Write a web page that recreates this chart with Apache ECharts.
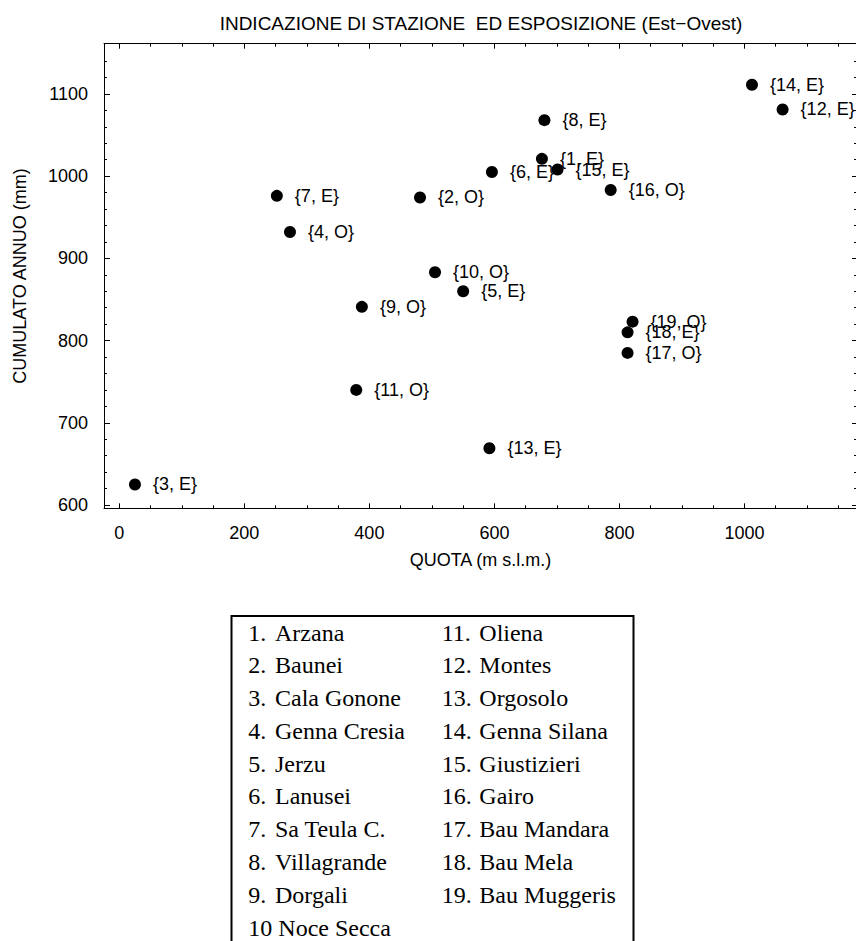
<!DOCTYPE html>
<html><head><meta charset="utf-8">
<script src="https://cdn.jsdelivr.net/npm/echarts@6/dist/echarts.min.js"></script>
<style>html,body{margin:0;padding:0;background:#fff}#c{width:856px;height:941px}</style>
</head><body><div id="c"></div>
<script>
// ---- data ----
const stationNumbers = [1,2,3,4,5,6,7,8,9,10,11,12,13,14,15,16,17,18,19];
const exposures = ['E','O','E','O','E','E','E','E','O','O','O','E','E','E','E','O','O','E','O'];
const altitudes = [676,481,25,273,550,596,252,680,388,505,379,1061,592,1012,701,786,813,813,821];
const annualTotals = [1021,974,625,932,860,1005,976,1068,841,883,740,1081,669,1111,1008,983,785,810,823];
const stationNames = ['Arzana','Baunei','Cala Gonone','Genna Cresia','Jerzu','Lanusei','Sa Teula C.','Villagrande','Dorgali','Noce Secca','Oliena','Montes','Orgosolo','Genna Silana','Giustizieri','Gairo','Bau Mandara','Bau Mela','Bau Muggeris'];
const legendNumbers = ['1.','2.','3.','4.','5.','6.','7.','8.','9.','10','11.','12.','13.','14.','15.','16.','17.','18.','19.'];
const xMajorTicks = [0,200,400,600,800,1000];
const xMinorTicks = [50,100,150,250,300,350,450,500,550,650,700,750,850,900,950,1050,1100,1150];
const yMajorTicks = [600,700,800,900,1000,1100];
const yMinorTicks = [620,640,660,680,720,740,760,780,820,840,860,880,920,940,960,980,1020,1040,1060,1080,1120,1140];
const chartTitle = 'INDICAZIONE DI STAZIONE  ED ESPOSIZIONE (Est\u2212Ovest)';
const xTitle = 'QUOTA (m s.l.m.)';
const yTitle = 'CUMULATO ANNUO (mm)';

// ---- layout ----
const X_MIN = -24.5, X_MAX = 1180, Y_MIN = 596, Y_MAX = 1161;
const SANS = '"Liberation Sans", Arial, Helvetica, sans-serif';
const SERIF = '"Liberation Serif", "Times New Roman", serif';

function mkAxis(kind, position, values, len, showLine, showLabel, extra) {
  const ax = {
    type: 'value', gridIndex: 0, position: position,
    min: kind === 'x' ? X_MIN : Y_MIN,
    max: kind === 'x' ? X_MAX : Y_MAX,
    splitLine: {show: false},
    axisLine: {show: showLine, onZero: false, lineStyle: {color: '#000', width: 1}},
    axisTick: {show: true, inside: true, length: len, customValues: values, lineStyle: {color: '#000', width: 1}},
    axisLabel: {show: showLabel, customValues: values, formatter: v => String(v),
      color: '#000', fontSize: 18, fontFamily: SANS, margin: 16}
  };
  return Object.assign(ax, extra || {});
}

const xAxes = [
  mkAxis('x', 'bottom', xMajorTicks, 5, true, true, {
    name: xTitle, nameLocation: 'middle', nameGap: 43,
    nameTextStyle: {color: '#000', fontSize: 18, fontFamily: SANS}
  }),
  mkAxis('x', 'bottom', xMinorTicks, 3, false, false),
  mkAxis('x', 'top', xMajorTicks, 5, true, false),
  mkAxis('x', 'top', xMinorTicks, 3, false, false)
];
const yAxes = [
  mkAxis('y', 'left', yMajorTicks, 6, true, true, {
    name: yTitle, nameLocation: 'middle', nameGap: 75,
    nameTextStyle: {color: '#000', fontSize: 18, fontFamily: SANS}
  }),
  mkAxis('y', 'left', yMinorTicks, 3, false, false),
  mkAxis('y', 'right', yMajorTicks, 5, true, false),
  mkAxis('y', 'right', yMinorTicks, 3, false, false)
];

const points = altitudes.map((x, i) => [x, annualTotals[i], stationNumbers[i], exposures[i]]);

// legend box graphics
const graphics = [{
  type: 'rect', shape: {x: 231.5, y: 616, width: 402, height: 400},
  style: {fill: 'none', stroke: '#000', lineWidth: 2}, silent: true
}];
const ROW0 = 632.5, ROWH = 32.78;
const COLS = [{num: 248.3, name: 275}, {num: 441.7, name: 479.3}];
stationNames.forEach((nm, i) => {
  const col = i < 10 ? 0 : 1;
  const row = i < 10 ? i : i - 10;
  const y = ROW0 + row * ROWH;
  const num = legendNumbers[i];
  const font = '24px ' + SERIF;
  if (num.endsWith('.')) {
    graphics.push({type: 'text', x: COLS[col].num, y: y, silent: true,
      style: {text: num, font: font, fill: '#000', align: 'left', verticalAlign: 'middle'}});
    graphics.push({type: 'text', x: COLS[col].name, y: y, silent: true,
      style: {text: nm, font: font, fill: '#000', align: 'left', verticalAlign: 'middle'}});
  } else {
    graphics.push({type: 'text', x: COLS[col].num, y: y, silent: true,
      style: {text: num + ' ' + nm, font: font, fill: '#000', align: 'left', verticalAlign: 'middle'}});
  }
});

const chart = echarts.init(document.getElementById('c'), null, {renderer: 'svg'});
chart.setOption({
  animation: false,
  backgroundColor: '#fff',
  textStyle: {fontFamily: SANS},
  title: {
    text: chartTitle, left: 476, top: 9, textAlign: 'center',
    textStyle: {fontSize: 19, fontWeight: 'normal', color: '#000', fontFamily: SANS}
  },
  grid: {left: 104, top: 43.7, right: -1, bottom: 432.7, containLabel: false, outerBoundsMode: 'none'},
  xAxis: xAxes,
  yAxis: yAxes,
  series: [{
    type: 'scatter', xAxisIndex: 0, yAxisIndex: 0,
    data: points,
    symbol: 'circle', symbolSize: 12,
    itemStyle: {color: '#000', opacity: 1},
    label: {
      show: true, position: 'right', distance: 12,
      formatter: p => '{' + p.data[2] + ', ' + p.data[3] + '}',
      color: '#000', fontSize: 18, fontFamily: SANS
    },
    emphasis: {disabled: true}
  }],
  graphic: graphics
});
</script></body></html>
